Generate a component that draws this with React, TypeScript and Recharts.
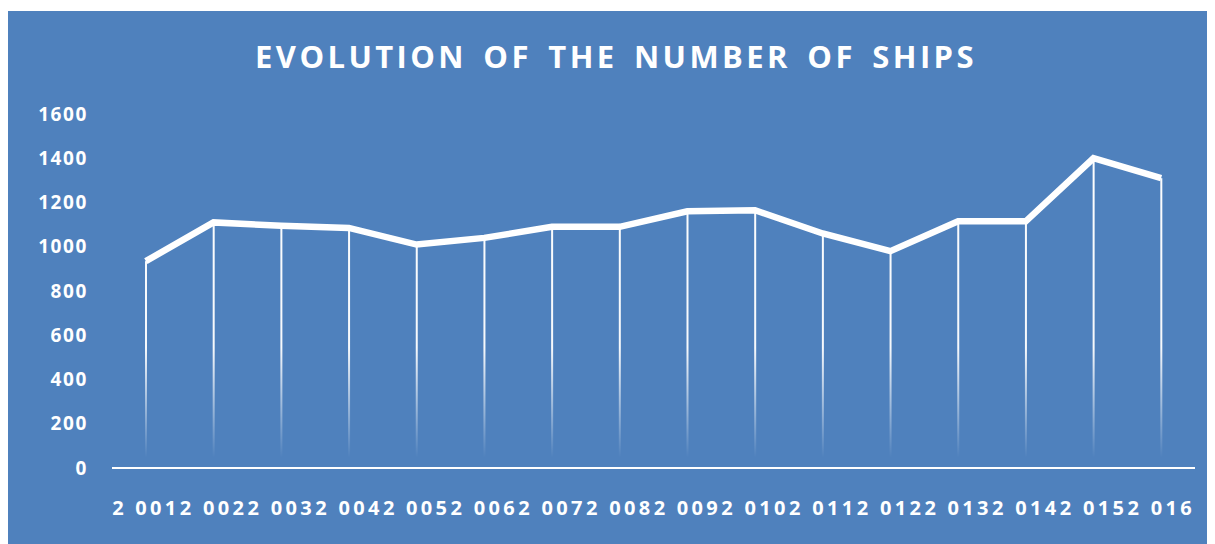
import { ComposedChart, Line, Bar, XAxis, YAxis } from "recharts";

const years = [
  "2 001", "2 002", "2 003", "2 004", "2 005", "2 006", "2 007", "2 008",
  "2 009", "2 010", "2 011", "2 012", "2 013", "2 014", "2 015", "2 016",
];
const ships = [
  935, 1110, 1095, 1085, 1010, 1040, 1090, 1090,
  1160, 1165, 1060, 980, 1115, 1115, 1400, 1310,
];
const yTicks = [0, 200, 400, 600, 800, 1000, 1200, 1400, 1600];

const data = years.map((year, i) => ({ year, ships: ships[i] }));

const BG = "#4f81bd";
const FONT = "'Open Sans', sans-serif";

// thin white drop line from the point down to the axis
function DropLine(props: any) {
  const { x, y, width, height } = props;
  if (height == null || height <= 0) return null;
  return <rect x={x + width / 2 - 1} y={y} width={2} height={height} fill="url(#dropFade)" />;
}

export default function App() {
  return (
    <div
      style={{
        position: "relative",
        width: 1208,
        height: 533,
        marginLeft: -1,
        marginTop: 3,
        background: BG,
      }}
    >
      <div
        style={{
          position: "absolute",
          top: 24,
          left: 0,
          width: 1218,
          textAlign: "center",
          color: "#fff",
          fontFamily: FONT,
          fontWeight: 700,
          fontSize: 31,
          letterSpacing: 3.4,
          wordSpacing: 5,
        }}
      >
        EVOLUTION OF THE NUMBER OF SHIPS
      </div>
      <ComposedChart
        width={1208}
        height={533}
        data={data}
        margin={{ top: 103, right: 20, bottom: 46, left: 0 }}
        barCategoryGap={0}
      >
        <defs>
          <linearGradient id="dropFade" gradientUnits="userSpaceOnUse" x1={0} y1={103} x2={0} y2={457}>
            <stop offset="0" stopColor="#fff" stopOpacity={1} />
            <stop offset="0.66" stopColor="#fff" stopOpacity={0.95} />
            <stop offset="0.97" stopColor="#fff" stopOpacity={0} />
          </linearGradient>
        </defs>
        <XAxis
          dataKey="year"
          height={30}
          interval={0}
          axisLine={{ stroke: "#fff", strokeWidth: 2 }}
          tickLine={false}
          tickSize={0}
          tickMargin={33}
          tick={{ fill: "#fff", fontFamily: FONT, fontWeight: 700, fontSize: 20, letterSpacing: 3.3 }}
        />
        <YAxis
          width={105}
          domain={[0, 1600]}
          ticks={yTicks}
          axisLine={false}
          tickLine={false}
          tickSize={0}
          tickMargin={24}
          tick={{ fill: "#fff", fontFamily: FONT, fontWeight: 700, fontSize: 19, letterSpacing: 1.6 }}
        />
        <Bar dataKey="ships" shape={DropLine} isAnimationActive={false} />
        <Line
          type="linear"
          dataKey="ships"
          stroke="#fff"
          strokeWidth={6.5}
          dot={false}
          activeDot={false}
          isAnimationActive={false}
        />
      </ComposedChart>
    </div>
  );
}
